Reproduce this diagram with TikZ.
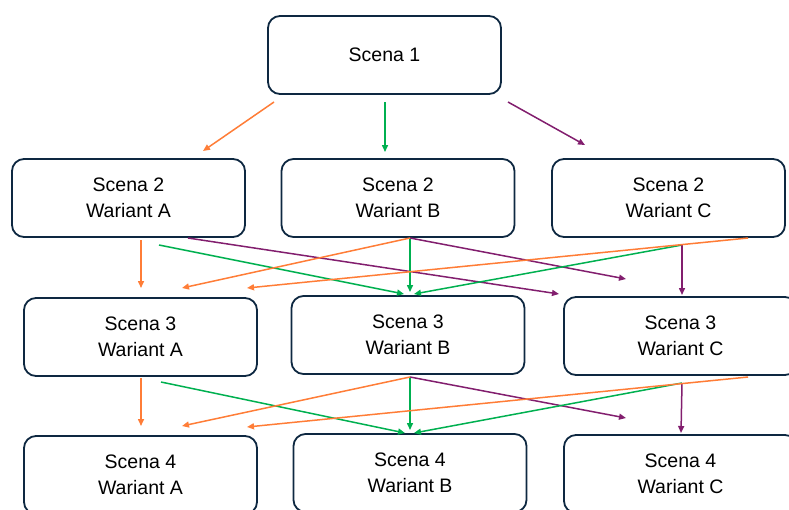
\documentclass[tikz,border=0pt]{standalone}
\usepackage{fontspec}
\setmainfont{Liberation Sans}
\usetikzlibrary{arrows.meta}
\definecolor{boxline}{RGB}{14,40,65}
\definecolor{cor}{RGB}{255,125,55}
\definecolor{cgr}{RGB}{0,176,80}
\definecolor{cpu}{RGB}{130,30,110}
\begin{document}
\begin{tikzpicture}[x=1pt,y=-1pt,
  scene/.style={draw=boxline, line width=1.8pt, rounded corners=12pt,
    minimum width=233pt, minimum height=78pt, align=center,
    font=\fontsize{19.5}{26}\selectfont, inner sep=0pt},
  conn/.style={line width=1.5pt, -{Triangle[length=7pt,width=6pt]}},
  orn/.style={conn, draw=cor, fill=cor},
  grn/.style={conn, draw=cgr, fill=cgr},
  pur/.style={conn, draw=cpu, fill=cpu}]
\useasboundingbox (0,0) rectangle (789,509);
\clip (0,0) rectangle (789,509);

% nodes
\node[scene] (s1) at (384.5,55) {Scena 1};
\node[scene] (s2a) at (128.5,198) {Scena 2\\Wariant A};
\node[scene] (s2b) at (398,198) {Scena 2\\Wariant B};
\node[scene] (s2c) at (668.5,198) {Scena 2\\Wariant C};
\node[scene] (s3a) at (140.5,337) {Scena 3\\Wariant A};
\node[scene] (s3b) at (408,335) {Scena 3\\Wariant B};
\node[scene] (s3c) at (680.5,336) {Scena 3\\Wariant C};
\node[scene] (s4a) at (140.5,475) {Scena 4\\Wariant A};
\node[scene] (s4b) at (410,473) {Scena 4\\Wariant B};
\node[scene] (s4c) at (680.5,474) {Scena 4\\Wariant C};

% connector ends, row 1 -> 2
\coordinate (r1o) at (274,102); \coordinate (r1oe) at (203,151);
\coordinate (r1g) at (385,102); \coordinate (r1ge) at (385,152);
\coordinate (r1p) at (508,102); \coordinate (r1pe) at (585,145);
% row 2 -> 3
\coordinate (a2o) at (141,240); \coordinate (a2oe) at (141,288);
\coordinate (a2g) at (159,245); \coordinate (a2ge) at (404,294);
\coordinate (a2p) at (188,238); \coordinate (a2pe) at (559,294);
\coordinate (b2) at (410,238);
\coordinate (b2ge) at (410,292); \coordinate (b2pe) at (626,279); \coordinate (b2oe) at (182,288);
\coordinate (c2) at (682,245);
\coordinate (c2ge) at (414,294); \coordinate (c2pe) at (682,295);
\coordinate (c2o) at (748,238); \coordinate (c2oe) at (247,288);
% row 3 -> 4
\coordinate (a3o) at (141,378); \coordinate (a3oe) at (141,426);
\coordinate (a3g) at (161,382); \coordinate (a3ge) at (405,433);
\coordinate (b3) at (410,377);
\coordinate (b3ge) at (410,430); \coordinate (b3pe) at (626,418); \coordinate (b3oe) at (182,426);
\coordinate (c3) at (682,383);
\coordinate (c3ge) at (414,433); \coordinate (c3pe) at (681,433);
\coordinate (c3o) at (748,377); \coordinate (c3oe) at (247,427);

% connectors
\draw[orn] (r1o) -- (r1oe);
\draw[grn] (r1g) -- (r1ge);
\draw[pur] (r1p) -- (r1pe);

\draw[orn] (a2o) -- (a2oe);
\draw[grn] (a2g) -- (a2ge);
\draw[pur] (a2p) -- (a2pe);
\draw[grn] (b2) -- (b2ge);
\draw[pur] (b2) -- (b2pe);
\draw[orn] (b2) -- (b2oe);
\draw[grn] (c2) -- (c2ge);
\draw[pur] (c2) -- (c2pe);
\draw[orn] (c2o) -- (c2oe);

\draw[orn] (a3o) -- (a3oe);
\draw[grn] (a3g) -- (a3ge);
\draw[grn] (b3) -- (b3ge);
\draw[pur] (b3) -- (b3pe);
\draw[orn] (b3) -- (b3oe);
\draw[grn] (c3) -- (c3ge);
\draw[pur] (c3) -- (c3pe);
\draw[orn] (c3o) -- (c3oe);
\end{tikzpicture}
\end{document}
